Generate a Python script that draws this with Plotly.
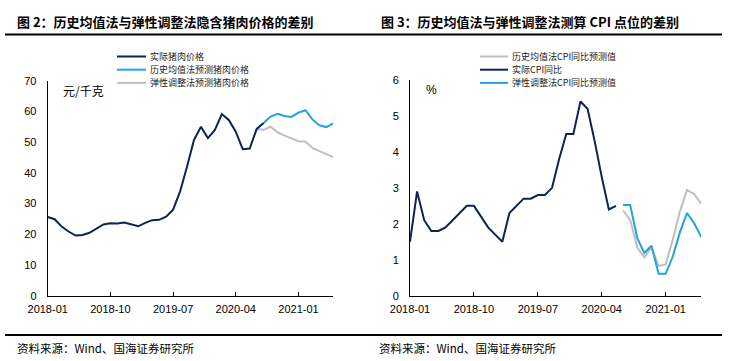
import plotly.graph_objects as go

# ---------------- data ----------------
months = [f"{y}-{m:02d}" for y in (2018, 2019, 2020, 2021) for m in range(1, 13)][:42]
tick_labels = ["2018-01", "2018-10", "2019-07", "2020-04", "2021-01"]

pork_actual = [25.6, 24.9, 22.5, 20.9, 19.6, 19.8, 20.5, 21.9, 23.2, 23.6,
               23.5, 23.8, 23.3, 22.6, 23.7, 24.6, 24.7, 25.7, 28.0, 33.9,
               42.0, 50.7, 55.0, 51.3, 54.0, 59.1, 57.2, 53.4, 47.7, 47.9,
               54.3, 56.2]
pork_hist = [None] * 31 + [56.2, 58.3, 59.2, 58.5, 58.2, 59.6, 60.4, 57.4, 55.5, 54.9, 56.1]
pork_elastic = [None] * 30 + [54.2, 54.0, 55.0, 53.2, 52.1, 51.3, 50.3, 50.2, 48.1, 47.1, 46.2, 45.1]

cpi_actual = [1.5, 2.9, 2.1, 1.8, 1.8, 1.9, 2.1, 2.3, 2.5, 2.5,
              2.2, 1.9, 1.7, 1.5, 2.3, 2.5, 2.7, 2.7, 2.8, 2.8,
              3.0, 3.8, 4.5, 4.5, 5.4, 5.2, 4.3, 3.3, 2.4, 2.5]
cpi_hist = [None] * 30 + [2.37, 2.11, 1.34, 1.06, 1.35, 0.83, 0.87, 1.56, 2.34, 2.94, 2.83, 2.56]
cpi_elastic = [None] * 30 + [2.52, 2.52, 1.60, 1.19, 1.39, 0.61, 0.61, 1.09, 1.76, 2.30, 2.02, 1.63]

left_legend = ["实际猪肉价格", "历史均值法预测猪肉价格", "弹性调整法预测猪肉价格"]
right_legend = ["历史均值法CPI同比预测值", "实际CPI同比", "弹性调整法CPI同比预测值"]

NAVY = "#0C2356"
CYAN = "#22A3DC"
GREY = "#BFBFBF"

W, H = 732, 361
def px(x):
    return x / W
def py(y):
    return 1 - y / H

FONT = "Arial, Liberation Sans, Noto Sans CJK SC, sans-serif"
CJK = "Noto Sans CJK SC, sans-serif"

fig = go.Figure()

def add(x, y, color, xa, ya, name):
    fig.add_trace(go.Scatter(x=x, y=y, mode="lines", name=name,
                             line=dict(color=color, width=2),
                             connectgaps=False, showlegend=False, hoverinfo="skip",
                             xaxis=xa, yaxis=ya))

add(months, pork_hist, CYAN, "x", "y", left_legend[1])
add(months, pork_elastic, GREY, "x", "y", left_legend[2])
add(months[:len(pork_actual)], pork_actual, NAVY, "x", "y", left_legend[0])

add(months, cpi_hist, GREY, "x2", "y2", right_legend[0])
add(months, cpi_elastic, CYAN, "x2", "y2", right_legend[2])
add(months[:len(cpi_actual)], cpi_actual, NAVY, "x2", "y2", right_legend[1])

xcommon = dict(type="category", categoryorder="array", categoryarray=months,
               range=[0, 41], tickmode="array", tickvals=tick_labels, ticktext=tick_labels,
               showline=True, linecolor="black", linewidth=1, ticks="inside", ticklen=4,
               tickcolor="black", showgrid=False, zeroline=False, automargin=False,
               ticklabelstandoff=3,
               tickfont=dict(family=FONT, size=11, color="black"))
ycommon = dict(showline=True, linecolor="black", linewidth=1, ticks="", showgrid=False,
               zeroline=False, ticklabelstandoff=8, automargin=False,
               tickfont=dict(family=FONT, size=11, color="black"))

fig.update_layout(
    width=W, height=H, margin=dict(l=0, r=0, t=0, b=0, pad=0, autoexpand=False),
    paper_bgcolor="white", plot_bgcolor="white", showlegend=False,
    xaxis=dict(domain=[px(47.7), px(333.3)], anchor="y", **xcommon),
    yaxis=dict(domain=[py(295.7), py(80.7)], anchor="x", range=[0, 70], dtick=10, **ycommon),
    xaxis2=dict(domain=[px(410), px(701.2)], anchor="y2", **xcommon),
    yaxis2=dict(domain=[py(295.7), py(80.0)], anchor="x2", range=[0, 6], dtick=1, **ycommon),
)

shapes = []
ann = []

# titles
ann.append(dict(text="<b>图 2：历史均值法与弹性调整法隐含猪肉价格的差别</b>", x=px(15), y=py(22),
                xref="paper", yref="paper", xanchor="left", yanchor="middle", showarrow=False,
                font=dict(family=CJK, size=13, color="black")))
ann.append(dict(text="<b>图 3：历史均值法与弹性调整法测算 CPI 点位的差别</b>", x=px(379), y=py(22),
                xref="paper", yref="paper", xanchor="left", yanchor="middle", showarrow=False,
                font=dict(family=CJK, size=13, color="black")))
# footers
for fx in (15, 377):
    ann.append(dict(text="资料来源：Wind、国海证券研究所", x=px(fx), y=py(348),
                    xref="paper", yref="paper", xanchor="left", yanchor="middle", showarrow=False,
                    font=dict(family=CJK, size=11.5, color="black")))
# unit labels
ann.append(dict(text="元/千克", x=px(61), y=py(90), xref="paper", yref="paper",
                xanchor="left", yanchor="middle", showarrow=False,
                font=dict(family=CJK, size=12, color="black")))
ann.append(dict(text="%", x=px(424), y=py(90), xref="paper", yref="paper",
                xanchor="left", yanchor="middle", showarrow=False,
                font=dict(family=FONT, size=12, color="black")))

# legends (manual)
left_cols = [NAVY, CYAN, GREY]
right_cols = [GREY, NAVY, CYAN]
for (lx0, lx1, tx), labels, cols in (((117, 146, 148), left_legend, left_cols),
                                     ((480, 508, 510), right_legend, right_cols)):
    for k, (label, col) in enumerate(zip(labels, cols)):
        yy = 56.5 + 13.2 * k
        shapes.append(dict(type="line", xref="paper", yref="paper", x0=px(lx0), x1=px(lx1),
                           y0=py(yy), y1=py(yy), line=dict(color=col, width=2)))
        ann.append(dict(text=label, x=px(tx), y=py(yy), xref="paper", yref="paper",
                        xanchor="left", yanchor="middle", showarrow=False,
                        font=dict(family=CJK, size=9, color="#222222")))

# separator rules (under titles and above source notes)
for ys in (335, 34.5):
    shapes.append(dict(type="line", xref="paper", yref="paper", x0=px(5), x1=px(722),
                       y0=py(ys), y1=py(ys), layer="above",
                       line=dict(color="black", width=2)))

fig.update_layout(shapes=shapes, annotations=ann)
fig.write_html("out.html", config={"displayModeBar": False},
               post_script="document.body.style.margin='0';document.body.style.overflow='hidden';")
